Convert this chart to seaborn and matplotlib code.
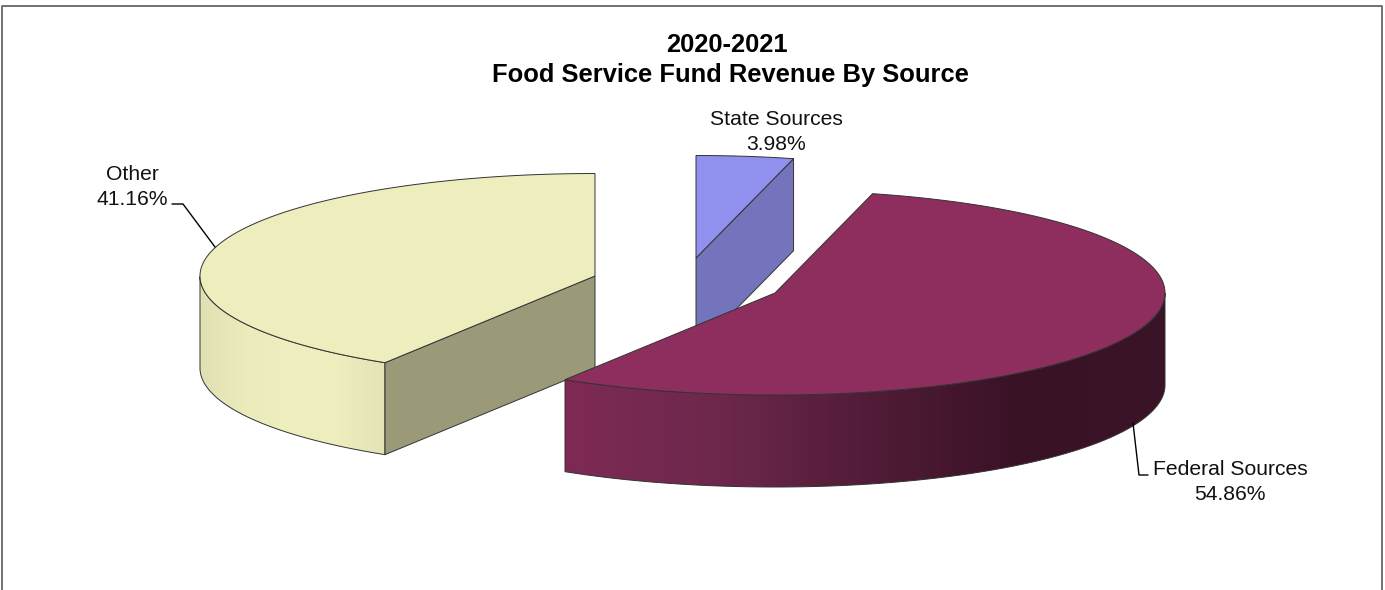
import numpy as np
import matplotlib
matplotlib.use("Agg")
import matplotlib.pyplot as plt
from matplotlib.patches import Polygon
import seaborn as sns

categories = ["State Sources", "Federal Sources", "Other"]
shares = [3.98, 54.86, 41.16]
title_lines = ["2020-2021", "Food Service Fund Revenue By Source"]

sns.set_theme(style="white")
plt.rcParams['font.family'] = ['Liberation Sans', 'DejaVu Sans']

fig, ax = plt.subplots(figsize=(13.85, 5.90), dpi=100)
ax.set_position([0, 0, 1, 1])
ax.axis("off")

A_RIGHT, A_LEFT, B_UP, B_DOWN, DEPTH, SKEW = 390, 395, 102.5, 102, 92, 4.5
centers = {"State Sources": (696, 258), "Federal Sources": (775, 293), "Other": (595, 276)}
tops = {"State Sources": "#9090EE", "Federal Sources": "#8E2E5E", "Other": "#EDEDBE"}
cuts = {"State Sources": "#7474BC", "Other": "#9A9A78"}
side_stops = {
    "Federal Sources": ["#7E2A55", "#6E284C", "#521C38", "#3A1226", "#3A1428"],
    "Other": ["#E0E0B4", "#EBEBBC", "#EEEEBF", "#EDEDBE", "#E3E3B6"],
}
EDGE = "#333333"
LW = 0.7

# angles run clockwise from 12 o'clock in the order of the categories
ends = 90 - 3.6 * np.cumsum(shares)
starts = np.concatenate([[90], ends[:-1]])


def pts(c, t):
    t = np.radians(np.atleast_1d(t))
    cs, sn = np.cos(t), np.sin(t)
    return np.column_stack([
        c[0] + np.where(cs >= 0, A_RIGHT, A_LEFT) * cs + SKEW * cs * sn ** 2,
        c[1] - np.where(sn >= 0, B_UP, B_DOWN) * sn,
    ])


def draw_slice(name, t0, t1, z):
    c = centers[name]
    ts = np.linspace(t0, t1, 400)
    arc = pts(c, ts)
    # curved outer wall (front half only), shaded left to right
    front = ts[np.sin(np.radians(ts)) <= 0]
    if len(front) > 2 and name in side_stops:
        p = pts(c, front)
        outline = np.vstack([p, (p + [0, DEPTH])[::-1]])
        wall = Polygon(outline, closed=True, fill=False, ec=EDGE, lw=LW, zorder=z + 0.1)
        ax.add_patch(wall)
        pal = sns.blend_palette(side_stops[name], n_colors=256, as_cmap=True)
        grad = np.linspace(0, 1, 256).reshape(1, -1)
        im = ax.imshow(
            grad, cmap=pal, aspect="auto", zorder=z, interpolation="bilinear",
            extent=(p[:, 0].min(), p[:, 0].max(), outline[:, 1].max(), outline[:, 1].min()),
        )
        im.set_clip_path(wall)
    # visible radial cut face
    if name in cuts:
        e = pts(c, t0 if name == "Other" else t1)[0]
        cc = np.array(c, float)
        q = [cc, e, e + [0, DEPTH], cc + [0, DEPTH]]
        ax.add_patch(Polygon(q, closed=True, fc=cuts[name], ec=EDGE, lw=LW, zorder=z + 0.2))
    top = np.vstack([[c], arc])
    ax.add_patch(Polygon(top, closed=True, fc=tops[name], ec=EDGE, lw=LW, zorder=z + 0.3))


z_order = {"State Sources": 2, "Other": 3, "Federal Sources": 4}
for name, s, e in zip(categories, starts, ends):
    draw_slice(name, s, e, z_order[name])

ax.set_xlim(0, 1385)
ax.set_ylim(590, 0)

# chart frame (runs past the bottom of the crop)
ax.plot([1.5, 1.5, 1382, 1382], [590, 6, 6, 590], color="#666666", lw=1.3, zorder=1)

ax.text(727, 45, title_lines[0], ha="center", va="center", fontsize=18.4, fontweight="bold", color="black")
ax.text(730, 75, title_lines[1], ha="center", va="center", fontsize=18.4, fontweight="bold", color="black")

# label anchors: x centre and baseline of the first line
label_pos = {"State Sources": (776, 125), "Federal Sources": (1230, 475), "Other": (132, 180)}
for name, v in zip(categories, shares):
    x, y = label_pos[name]
    ax.text(x, y, name, ha="center", va="baseline", fontsize=15.2, color="#111111")
    ax.text(x, y + 25, f"{v:.2f}%", ha="center", va="baseline", fontsize=15.2, color="#111111")

# leader lines
ax.plot([172, 183, 215], [204, 204, 247], color="black", lw=1.0, zorder=6)
ax.plot([1148, 1139, 1133], [475, 475, 423], color="black", lw=1.0, zorder=6)

fig.savefig("out.png", dpi=100)
